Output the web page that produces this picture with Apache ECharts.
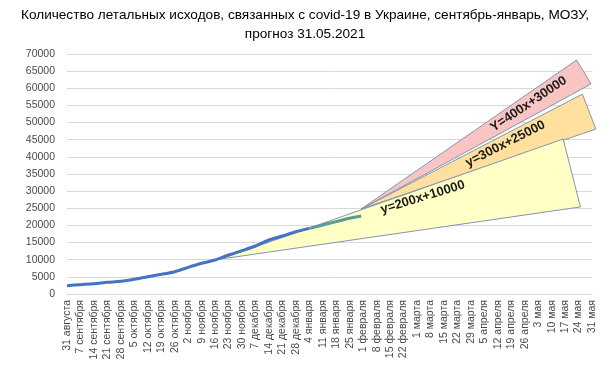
<!DOCTYPE html>
<html>
<head>
<meta charset="utf-8">
<script src="https://cdn.jsdelivr.net/npm/echarts@6/dist/echarts.min.js"></script>
<style>
html,body{margin:0;padding:0;background:#fff;}
#chart{width:610px;height:366px;}
</style>
</head>
<body>
<div id="chart"></div>
<script>
// Weekly tick labels (x axis in days from 31 August, one label every 7 days)
const categories = ['31 августа','7 сентября','14 сентября','21 сентября','28 сентября',
  '5 октября','12 октября','19 октября','26 октября','2 ноября','9 ноября','16 ноября',
  '23 ноября','30 ноября','7 декабря','14 декабря','21 декабря','28 декабря',
  '4 января','11 января','18 января','25 января','1 февраля','8 февраля','15 февраля',
  '22 февраля','1 марта','8 марта','15 марта','22 марта','29 марта','5 апреля',
  '12 апреля','19 апреля','26 апреля','3 мая','10 мая','17 мая','24 мая','31 мая'];

// Reported deaths (blue part), one value per week from 31 August
const deathsDays = [0,7,14,21,28,35,42,49,56,63,70,77,84,91,98,105,112,119,126];
const deathsValues = [2430,2720,3000,3400,3700,4290,5050,5740,6500,7780,8950,9920,11375,12640,14000,15750,16900,18170,19150];

// Final part of the data (teal segment)
const lateDays = [126,133,140,147,153];
const lateValues = [19150,20125,21100,22080,22750];

// Forecast wedges: vertices as [day, deaths]
const wedgeLabels = ['у=200x+10000','у=300x+25000','Y=400x+30000'];
const wedgeVertices = [
  [[80,10200],[258,45200],[267,25400]],
  [[153,24800],[268,58300],[275,48100]],
  [[153,24800],[265,68250],[272.5,61250]]
];
// label anchor points [day, deaths] and angle (degrees)
const wedgeLabelAnchors = [[185,28200],[228,43800],[240,55400]];
const wedgeLabelAngles = [17,27,34];

const wedgeColors = ['#FFFFC6','#FFE09E','#F8C4C4'];
const drawOrder = [1,2,0];

const chart = echarts.init(document.getElementById('chart'));
const FONT = 'Liberation Sans';

function wedgeSeries(k){
  return {
    type:'custom',
    clip:false,
    silent:true,
    z:2,
    data:[[wedgeVertices[k][0][0], wedgeVertices[k][0][1]]],
    renderItem:function(params, api){
      const pts = wedgeVertices[k].map(p => api.coord(p));
      return {type:'polygon', shape:{points:pts},
        style:{fill:wedgeColors[k], stroke:'#8495AE', lineWidth:1}};
    }
  };
}

const series = drawOrder.map(wedgeSeries);
series.push({
  type:'line', z:5, showSymbol:false, smooth:0.3,
  data: deathsDays.map((d,i)=>[d, deathsValues[i]]),
  lineStyle:{color:'#4472C4', width:3}, itemStyle:{color:'#4472C4'}
});
series.push({
  type:'line', z:5, showSymbol:false, smooth:0.3,
  data: lateDays.map((d,i)=>[d, lateValues[i]]),
  lineStyle:{color:'#5B9A95', width:3}, itemStyle:{color:'#5B9A95'}
});
series.push({
  type:'custom', clip:false, silent:true, z:10,
  data: wedgeLabelAnchors.map(a=>[a[0],a[1]]),
  renderItem:function(params, api){
    const i = params.dataIndex;
    const p = api.coord(wedgeLabelAnchors[i]);
    return {type:'text', x:p[0], y:p[1], rotation:wedgeLabelAngles[i]*Math.PI/180,
      style:{text:wedgeLabels[i], fontSize:13, fontFamily:FONT, fontWeight:'bold',
        fill:'#1a1a1a', align:'center', verticalAlign:'middle'}};
  }
});

chart.setOption({
  animation:false,
  backgroundColor:'#fff',
  title:{
    text:'Количество летальных исходов, связанных с covid-19 в Украине, сентябрь-январь, МОЗУ,\nпрогноз 31.05.2021',
    left:'center', top:1,
    textStyle:{fontFamily:FONT, fontSize:13.6, fontWeight:'normal', color:'#000', lineHeight:19}
  },
  grid:{left:67, right:18, top:54, bottom:72},
  xAxis:{
    type:'value', min:0, max:273, interval:7,
    axisTick:{show:false},
    axisLine:{lineStyle:{color:'#D9D9D9'}},
    splitLine:{show:false},
    axisLabel:{rotate:90, margin:6, fontSize:10.5, fontFamily:FONT, color:'#4a4a4a',
      formatter:function(v){return categories[Math.round(v/7)] || '';}}
  },
  yAxis:{
    type:'value', min:0, max:70000, interval:5000,
    axisLine:{show:false}, axisTick:{show:false},
    splitLine:{lineStyle:{color:'#D9D9D9'}},
    axisLabel:{fontSize:10.5, fontFamily:FONT, color:'#4a4a4a', margin:12,
      formatter:function(v){return String(v);}}
  },
  series:series
});
</script>
</body>
</html>
